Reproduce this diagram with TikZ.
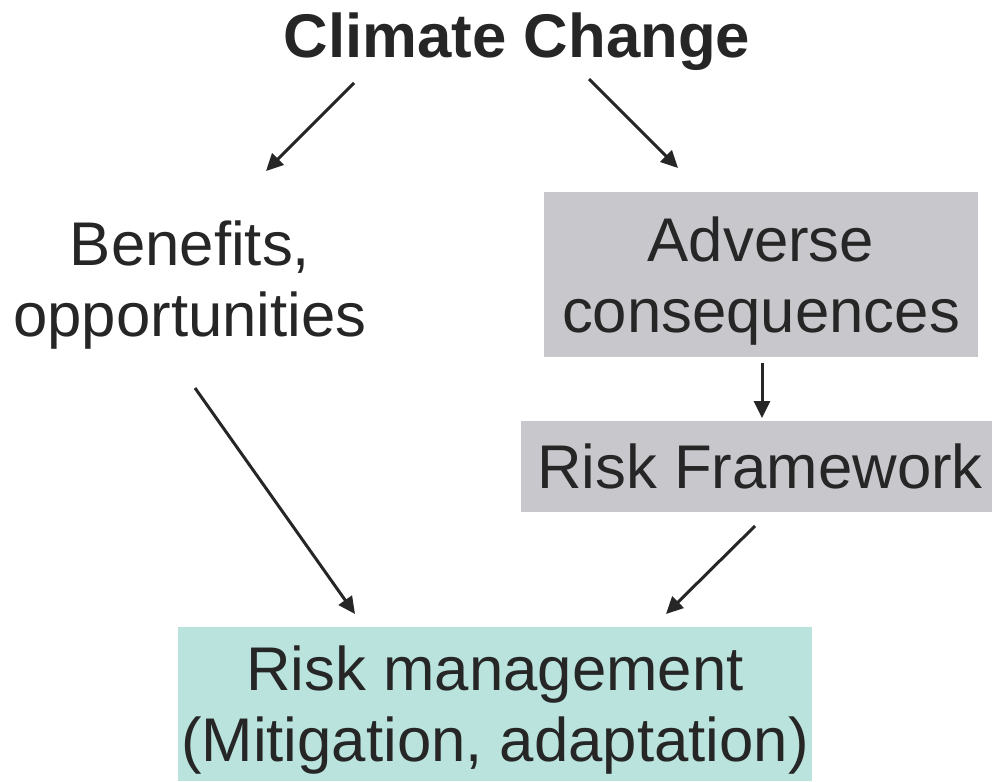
\documentclass[tikz,border=0pt]{standalone}
\usepackage{fontspec}
\setmainfont{Liberation Sans}
\usetikzlibrary{arrows.meta}

\definecolor{inkgray}{HTML}{262626}
\definecolor{boxgray}{HTML}{C8C7CC}
\definecolor{boxteal}{HTML}{B9E3DC}

\tikzset{
    flowtext/.style={font=\fontsize{61.7pt}{71pt}\selectfont, text=inkgray, align=center, inner sep=0pt},
    graybox/.style={flowtext, fill=boxgray, text depth=0pt},
    tealbox/.style={flowtext, fill=boxteal, text depth=0pt},
    flowarrow/.style={draw=inkgray, line width=3pt, -{Triangle[length=17pt, width=16pt]}}
}

\begin{document}
\begin{tikzpicture}[x=1pt, y=-1pt]
    \useasboundingbox (0,0) rectangle (992,781);

    \node[flowtext, font=\fontsize{61.7pt}{71pt}\selectfont\bfseries, anchor=base] (climate) at (517,58) {Climate Change};
    \node[flowtext] (benefits) at (190,285) {Benefits,\\opportunities};
    \node[graybox, minimum width=434pt, minimum height=165pt] (adverse) at (761,274.5) {Adverse\\consequences};
    % box runs past the right edge of the page
    \node[graybox, minimum width=478pt, minimum height=91pt] (framework) at (760,466.5) {Risk Framework};
    \node[tealbox, minimum width=634pt, minimum height=154pt] (riskmgmt) at (495,704) {Risk management\\(Mitigation, adaptation)};

    % loose arrow ends
    \coordinate (climate-l) at (354,83);
    \coordinate (benefits-t) at (266,171);
    \coordinate (climate-r) at (589,79);
    \coordinate (adverse-t) at (678,168);
    \coordinate (adverse-b) at (762,363);
    \coordinate (framework-t) at (762,418);
    \coordinate (benefits-b) at (195,388);
    \coordinate (riskmgmt-l) at (355,614);
    \coordinate (framework-b) at (755,526);
    \coordinate (riskmgmt-r) at (666,614);

    \draw[flowarrow] (climate-l) -- (benefits-t);
    \draw[flowarrow] (climate-r) -- (adverse-t);
    \draw[flowarrow] (adverse-b) -- (framework-t);
    \draw[flowarrow] (benefits-b) -- (riskmgmt-l);
    \draw[flowarrow] (framework-b) -- (riskmgmt-r);
\end{tikzpicture}
\end{document}
